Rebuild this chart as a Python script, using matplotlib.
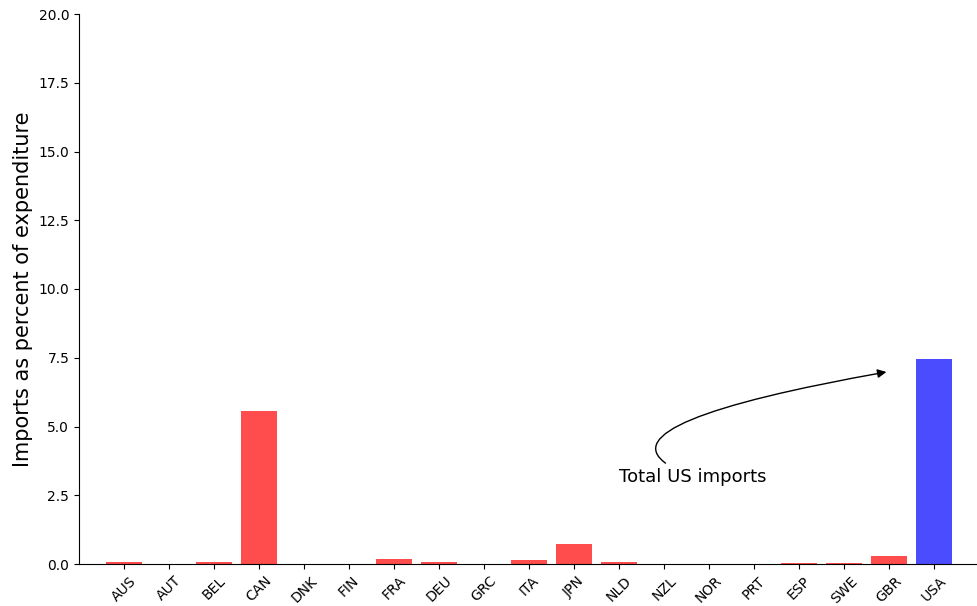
import matplotlib
matplotlib.use('Agg')
import matplotlib.pyplot as plt
import numpy as np

countries = ['AUS', 'AUT', 'BEL', 'CAN', 'DNK', 'FIN', 'FRA', 'DEU', 'GRC', 'ITA',
             'JPN', 'NLD', 'NZL', 'NOR', 'PRT', 'ESP', 'SWE', 'GBR', 'USA']
# imports from the US as a share of expenditure (USA = total US imports)
imports = [0.07, 0.0, 0.07, 5.56, 0.0, 0.0, 0.18, 0.07, 0.0, 0.15,
           0.73, 0.07, 0.0, 0.0, 0.0, 0.02, 0.02, 0.29, 7.45]

colors = ['red'] * (len(countries) - 1) + ['blue']

fig = plt.figure(figsize=(9.77, 6.06), dpi=100)
ax = fig.add_axes([79 / 977, 42 / 606, 897 / 977, 550 / 606])

x = np.arange(len(countries))
ax.bar(x, imports, color=colors, alpha=0.7, width=0.8)

ax.set_xticks(x)
ax.set_xticklabels(countries, rotation=45)
ax.set_xlim(-1, 18.93)
ax.set_ylim(0, 20)
ax.set_yticks(np.arange(0, 20.1, 2.5))
ax.set_ylabel('Imports as percent of expenditure', fontsize=15)

ax.spines['top'].set_visible(False)
ax.spines['right'].set_visible(False)

ax.annotate('Total US imports', xy=(17, 7), xytext=(11, 3), fontsize=13,
            arrowprops=dict(arrowstyle='-|>', color='black',
                            connectionstyle='angle3,angleA=160,angleB=10'))

fig.savefig('out.png', dpi=100)
